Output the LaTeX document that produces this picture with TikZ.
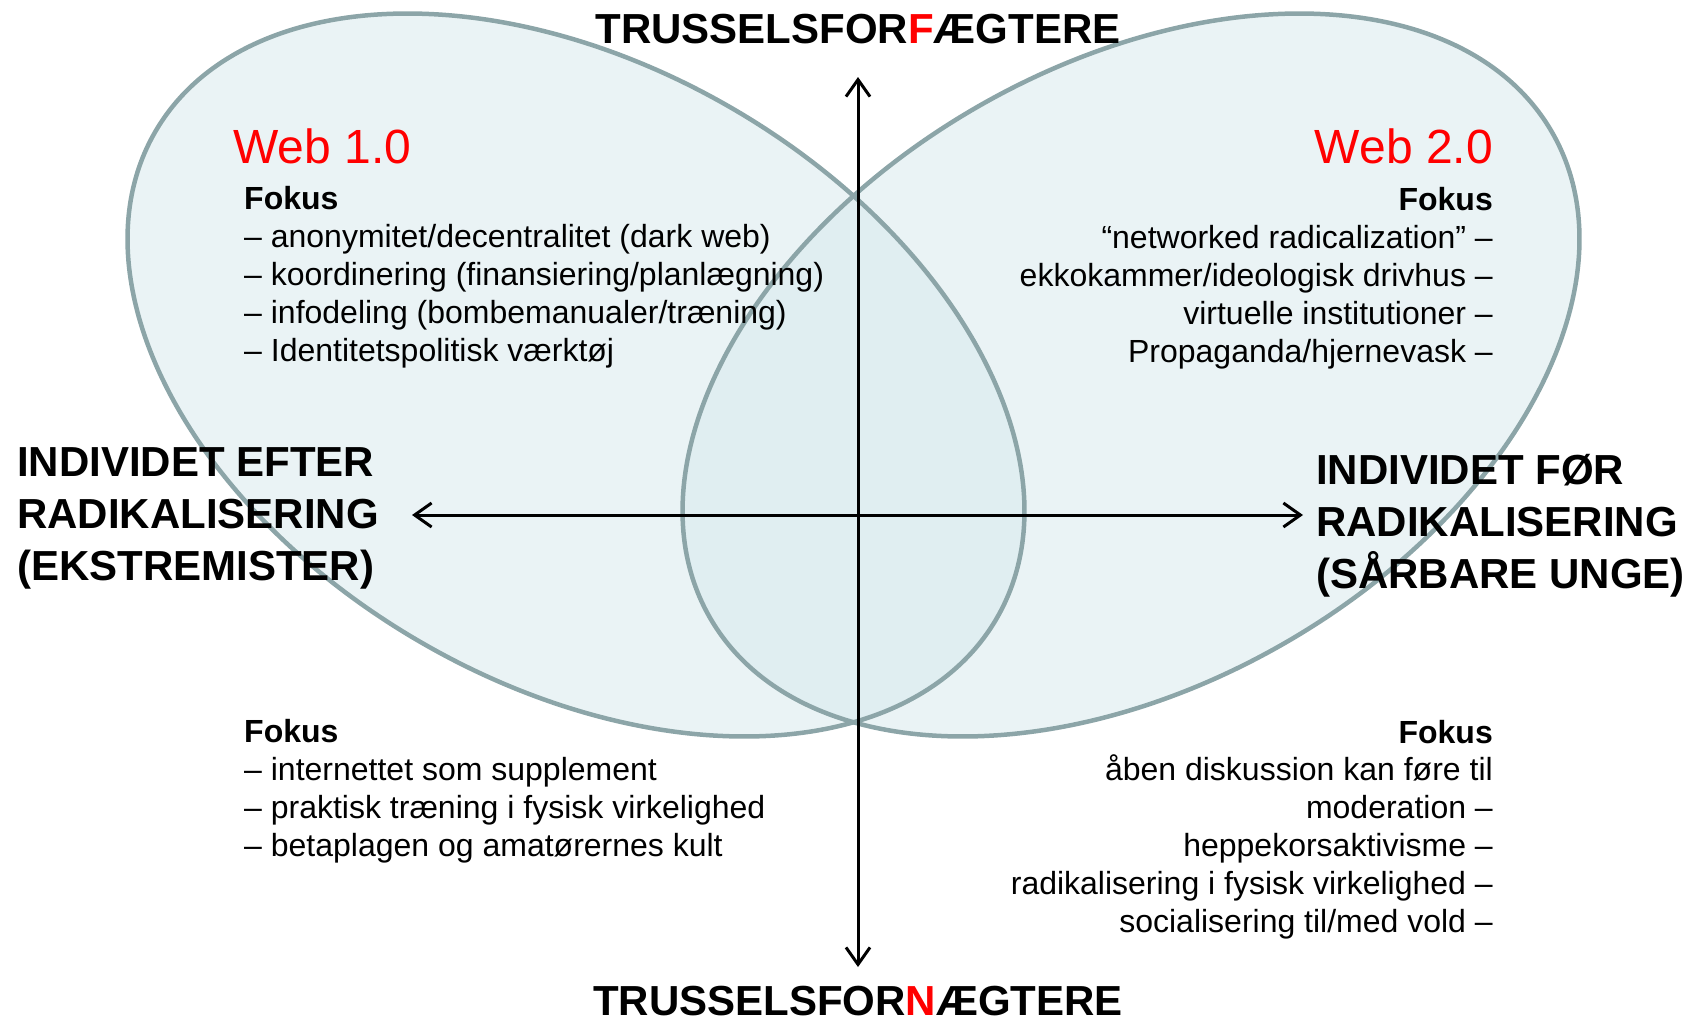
\documentclass[tikz,border=0pt]{standalone}
\usepackage{fontspec}
\setmainfont{Liberation Sans}
\usetikzlibrary{arrows.meta}

\definecolor{rimgrey}{RGB}{140,165,168}
\definecolor{lobeblue}{RGB}{214,232,236}
\definecolor{webred}{RGB}{255,0,0}

\begin{document}
\begin{tikzpicture}[x=1pt, y=-1pt,
    >={Straight Barb[length=17pt, width=24pt]},
    lobe/.style={draw=rimgrey, line width=4.5pt},
    lobefill/.style={fill=lobeblue, fill opacity=0.5},
    axis/.style={line width=3pt},
    pole/.style={font=\fontsize{42}{52}\selectfont\bfseries, inner sep=0pt, align=left},
    webtitle/.style={font=\fontsize{48}{56}\selectfont, text=webred, inner sep=0pt},
    focus/.style={font=\fontsize{32}{37.8}\selectfont, inner sep=0pt}
]
\useasboundingbox (0,0) rectangle (1699,1021);

% the two lobes
\fill[lobefill, rotate around={-30:(576,375)}] (576,375) ellipse [x radius=486, y radius=309];
\fill[lobefill, rotate around={30:(1131,375)}] (1131,375) ellipse [x radius=486, y radius=309];
\draw[lobe, rotate around={-30:(576,375)}] (576,375) ellipse [x radius=486, y radius=309];
\draw[lobe, rotate around={30:(1131,375)}] (1131,375) ellipse [x radius=486, y radius=309];

% axes
\coordinate (upper) at (858,77);
\coordinate (lower) at (858,967);
\coordinate (after) at (412,515);
\coordinate (before) at (1303,515);
\draw[axis, <->] (upper) -- (lower);
\draw[axis, <->] (after) -- (before);

% pole labels (base = last line)
\node[pole, anchor=base] (forf) at (858,43) {TRUSSELSFOR\textcolor{webred}{F}ÆGTERE};
\node[pole, anchor=base] (forn) at (858,1015) {TRUSSELSFOR\textcolor{webred}{N}ÆGTERE};
\node[pole, anchor=base west] (efter) at (17,580) {INDIVIDET EFTER\\RADIKALISERING\\(EKSTREMISTER)};
\node[pole, anchor=base west] (foer) at (1316,588) {INDIVIDET FØR\\RADIKALISERING\\(SÅRBARE UNGE)};

% web titles
\node[webtitle, anchor=base west] (web1) at (233,163) {Web 1.0};
\node[webtitle, anchor=base east] (web2) at (1493,163) {Web 2.0};

% focus lists
\node[focus, align=left, anchor=base west] (focus1) at (244,361) {\textbf{Fokus}\\
  – anonymitet/decentralitet (dark web)\\
  – koordinering (finansiering/planlægning)\\
  – infodeling (bombemanualer/træning)\\
  – Identitetspolitisk værktøj};
\node[focus, align=right, anchor=base east] (focus2) at (1493,362) {\textbf{Fokus}\\
  “networked radicalization” –\\
  ekkokammer/ideologisk drivhus –\\
  virtuelle institutioner –\\
  Propaganda/hjernevask –};
\node[focus, align=left, anchor=base west] (focus3) at (244,856) {\textbf{Fokus}\\
  – internettet som supplement\\
  – praktisk træning i fysisk virkelighed\\
  – betaplagen og amatørernes kult};
\node[focus, align=right, anchor=base east] (focus4) at (1493,932) {\textbf{Fokus}\\
  åben diskussion kan føre til\\
  moderation –\\
  heppekorsaktivisme –\\
  radikalisering i fysisk virkelighed –\\
  socialisering til/med vold –};
\end{tikzpicture}
\end{document}
